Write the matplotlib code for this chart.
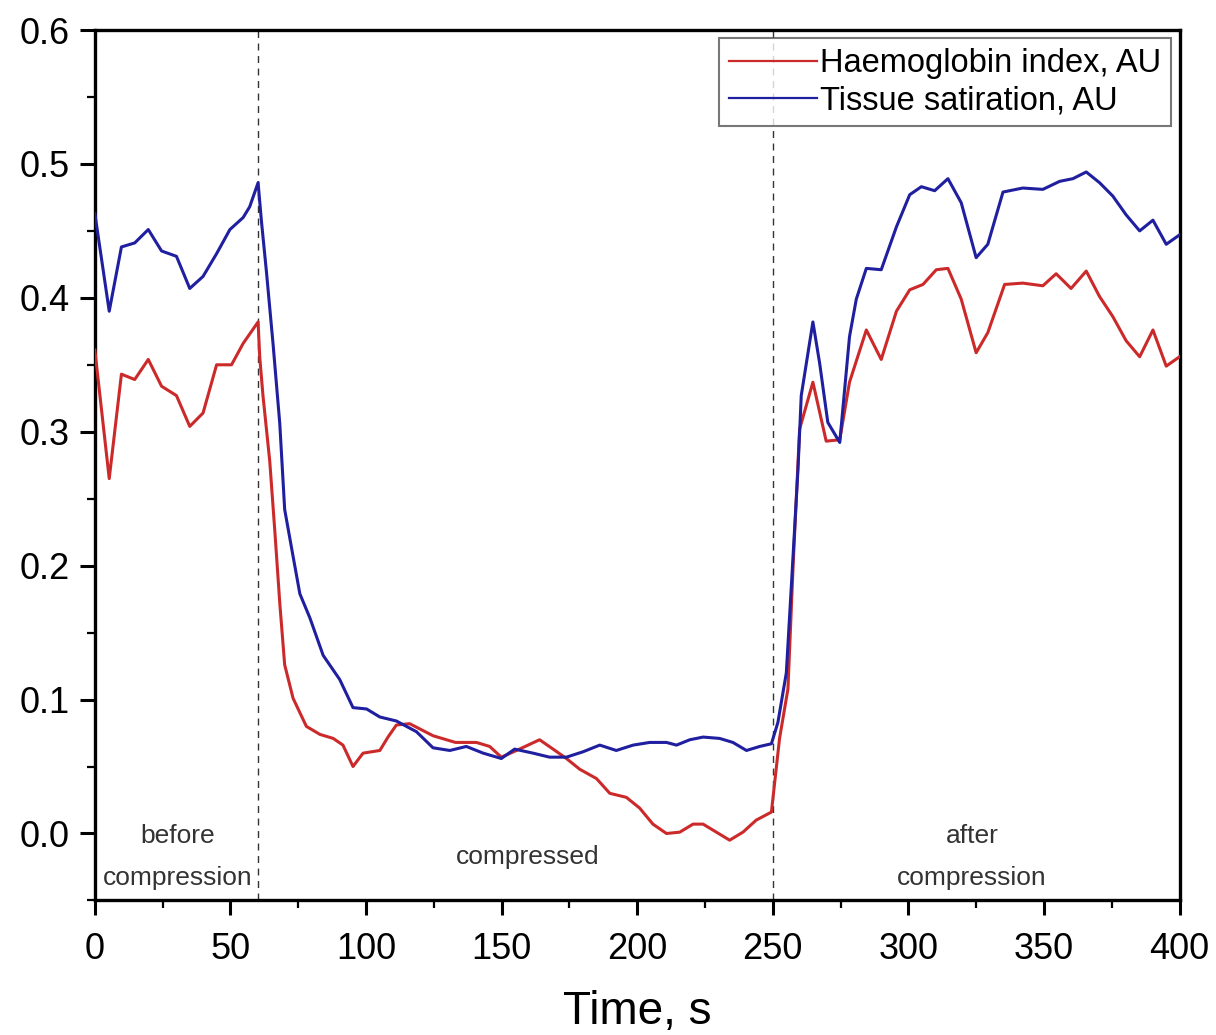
import numpy as np
import matplotlib
matplotlib.use("Agg")
import matplotlib.pyplot as plt
from matplotlib.ticker import MultipleLocator

plt.rcParams['font.family'] = ['Liberation Sans', 'DejaVu Sans']

# Tissue saturation (blue)
t_sat = [0, 5.3, 9.8, 14.7, 19.7, 24.6, 30.1, 35.0, 39.9, 44.9, 49.8, 54.7, 57.1, 60.2,
         61.4, 63.3, 65.7, 68.2, 70.0, 73.1, 75.6, 79.3, 84.2, 90.3, 95.2, 100.2, 105.1,
         111.2, 118.6, 124.7, 130.9, 137.0, 143.2, 149.9, 154.8, 161.6, 167.7, 173.9,
         180.0, 186.2, 192.3, 198.5, 204.6, 210.8, 214.5, 219.4, 224.3, 230.4, 235.3,
         240.3, 245.2, 249.5, 251.9, 255.0, 257.0, 259.3, 260.5, 264.8, 267.3, 270.3,
         274.7, 278.3, 280.8, 284.5, 290.0, 295.6, 300.5, 304.8, 309.7, 314.6, 319.5,
         325.0, 329.3, 334.9, 342.2, 349.6, 355.8, 360.7, 365.6, 370.5, 375.4, 380.3,
         385.3, 390.2, 395.1, 400]
sat = [0.463, 0.390, 0.438, 0.441, 0.451, 0.435, 0.431, 0.407, 0.416, 0.433, 0.451, 0.460,
       0.468, 0.486, 0.458, 0.419, 0.366, 0.306, 0.242, 0.207, 0.179, 0.161, 0.133, 0.115,
       0.094, 0.093, 0.087, 0.084, 0.076, 0.064, 0.062, 0.065, 0.060, 0.056, 0.063, 0.060,
       0.057, 0.057, 0.061, 0.066, 0.062, 0.066, 0.068, 0.068, 0.066, 0.070, 0.072, 0.071,
       0.068, 0.062, 0.065, 0.067, 0.083, 0.120, 0.190, 0.272, 0.327, 0.382, 0.351, 0.307,
       0.292, 0.371, 0.399, 0.422, 0.421, 0.453, 0.477, 0.483, 0.480, 0.489, 0.471, 0.430,
       0.440, 0.479, 0.482, 0.481, 0.487, 0.489, 0.494, 0.486, 0.476, 0.462, 0.450, 0.458,
       0.440, 0.447]

# Haemoglobin index (red)
t_hb = [0, 5.3, 9.8, 14.7, 19.7, 24.6, 30.1, 35.0, 39.9, 44.9, 50.4, 54.7, 60.2, 60.8,
        62.0, 64.5, 66.4, 68.2, 70.0, 73.1, 78.0, 83.0, 87.9, 91.5, 95.2, 98.9, 105.1,
        108.1, 111.2, 116.1, 124.7, 133.0, 140.7, 145.6, 149.9, 155.5, 164.0, 169.0,
        173.9, 178.8, 185.0, 189.9, 196.0, 200.9, 205.8, 210.8, 215.7, 220.6, 224.3,
        229.2, 234.1, 239.0, 243.9, 249.5, 252.5, 255.6, 257.5, 259.9, 264.8, 269.7,
        274.7, 278.3, 284.5, 290.0, 295.6, 300.5, 305.4, 310.3, 314.6, 319.5, 325.0,
        329.3, 335.5, 342.2, 349.6, 354.5, 360.0, 365.6, 370.5, 375.4, 380.3, 385.3,
        390.2, 395.1, 400]
hb = [0.361, 0.265, 0.343, 0.339, 0.354, 0.334, 0.327, 0.304, 0.314, 0.350, 0.350, 0.366,
      0.382, 0.356, 0.327, 0.278, 0.225, 0.172, 0.126, 0.101, 0.080, 0.074, 0.071, 0.066,
      0.050, 0.060, 0.062, 0.072, 0.081, 0.082, 0.073, 0.068, 0.068, 0.065, 0.057, 0.062,
      0.070, 0.063, 0.056, 0.048, 0.041, 0.030, 0.027, 0.019, 0.007, 0.000, 0.001, 0.007,
      0.007, 0.001, -0.005, 0.001, 0.010, 0.016, 0.071, 0.108, 0.200, 0.302, 0.337, 0.293,
      0.294, 0.337, 0.376, 0.354, 0.390, 0.406, 0.410, 0.421, 0.422, 0.399, 0.359, 0.374,
      0.410, 0.411, 0.409, 0.418, 0.407, 0.420, 0.401, 0.386, 0.368, 0.356, 0.376, 0.349,
      0.356]

phase_bounds = [60, 250]
phase_x = [30.6, 159.6, 323.5]
phase_labels = ["before\ncompression", "compressed", "after\ncompression"]

fig = plt.figure(figsize=(12.16, 10.35), dpi=100)
ax = fig.add_axes([0.078, 0.130, 0.892, 0.841])

for xb in phase_bounds:
    ax.axvline(xb, color='#333333', linestyle=(0, (5, 4)), linewidth=1.0, zorder=1)

ax.plot(t_hb, hb, color='#cc2a2a', linewidth=2.2, label='Haemoglobin index, AU', zorder=3)
ax.plot(t_sat, sat, color='#1f1fa0', linewidth=2.2, label='Tissue satiration, AU', zorder=3)

for xp, lab in zip(phase_x, phase_labels):
    ax.text(xp, -0.0175, lab, ha='center', va='center',
            fontsize=19, color='#333333', linespacing=1.95)

ax.set_xlim(0, 400)
ax.set_ylim(-0.05, 0.6)
ax.xaxis.set_major_locator(MultipleLocator(50))
ax.xaxis.set_minor_locator(MultipleLocator(25))
ax.yaxis.set_major_locator(MultipleLocator(0.1))
ax.yaxis.set_minor_locator(MultipleLocator(0.05))
ax.yaxis.set_major_formatter(matplotlib.ticker.FormatStrFormatter('%.1f'))

ax.tick_params(which='major', direction='out', length=11, width=2.2, labelsize=26, pad=7,
               top=False, right=False)
ax.tick_params(which='minor', direction='out', length=6, width=1.6, top=False, right=False)
ax.tick_params(axis='x', which='major', pad=12)
for s in ax.spines.values():
    s.set_linewidth(2.4)

ax.set_xlabel('Time, s', fontsize=33, labelpad=16)

leg = ax.legend(loc='upper right', fontsize=23.5, frameon=True, fancybox=False,
                edgecolor='#555555', handlelength=2.7, handletextpad=0.1,
                borderaxespad=0.25, labelspacing=0.2, borderpad=0.3)
leg.get_frame().set_linewidth(1.5)
for h in leg.get_lines():
    h.set_linewidth(1.6)

fig.savefig('out.png', dpi=100)
